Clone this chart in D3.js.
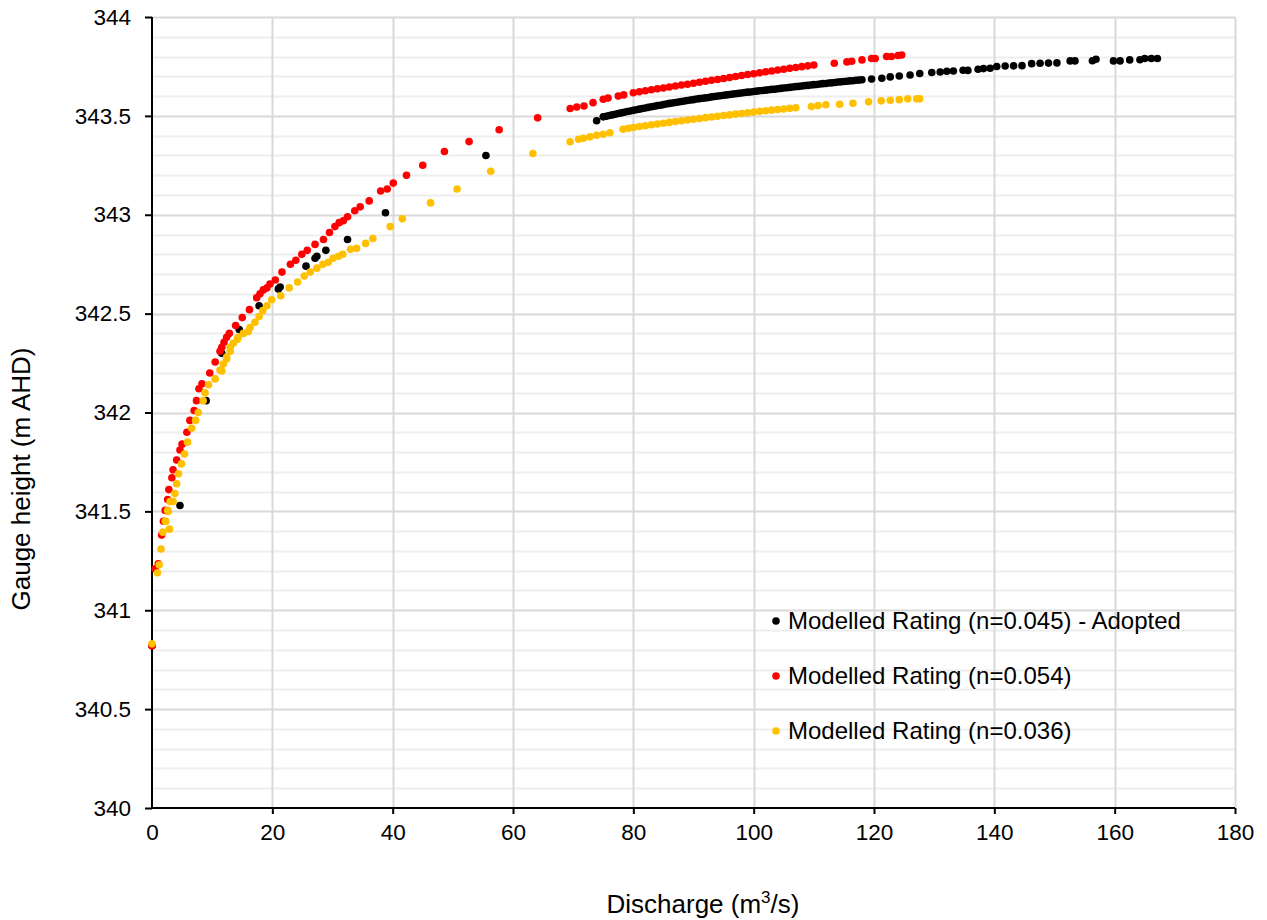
<!DOCTYPE html>
<html>
<head>
<meta charset="utf-8">
<script src="https://cdn.jsdelivr.net/npm/d3@7"></script>
<style>
  html, body { margin: 0; padding: 0; background: #fff; }
  svg { display: block; font-family: "Liberation Sans", Arial, sans-serif; }
</style>
</head>
<body>
<svg id="chart" width="1267" height="920"></svg>
<script>
// ---------- DATA ----------
const seriesNames = [
  "Modelled Rating (n=0.045) - Adopted",
  "Modelled Rating (n=0.054)",
  "Modelled Rating (n=0.036)"
];
const seriesColors = ["#000000", "#ff0000", "#ffc000"];

const xTicks = [0, 20, 40, 60, 80, 100, 120, 140, 160, 180];
const yTicks = [340, 340.5, 341, 341.5, 342, 342.5, 343, 343.5, 344];

// [discharge m3/s, gauge height m AHD]
const adoptedPts = [
  [0,340.82],[4.65,341.53],[9.0,342.06],[11.6,342.30],[14.5,342.42],[17.8,342.54],
  [21.0,342.625],[21.3,342.635],[25.6,342.74],[27.1,342.78],[27.4,342.79],[28.9,342.82],
  [32.5,342.875],[38.8,343.01],[55.5,343.30],[73.9,343.475],
  [75.0,343.495],[75.5,343.498],[76.0,343.502],[76.5,343.505],[77.0,343.508],[77.5,343.512],
  [78.0,343.515],[78.5,343.518],[79.0,343.522],[79.5,343.525],[80.0,343.528],[80.5,343.531],
  [81.0,343.534],[81.5,343.537],[82.0,343.540],[82.5,343.543],[83.0,343.546],[83.5,343.549],
  [84.0,343.552],[84.5,343.554],[85.0,343.557],[85.5,343.560],[86.0,343.563],[86.5,343.565],
  [87.0,343.568],[87.5,343.570],[88.0,343.573],[88.5,343.575],[89.0,343.578],[89.5,343.580],
  [90.0,343.582],[90.5,343.585],[91.0,343.587],[91.5,343.589],[92.0,343.591],[92.5,343.593],
  [93.0,343.596],[93.5,343.598],[94.0,343.600],[94.5,343.602],[95.0,343.604],[95.5,343.606],
  [96.0,343.608],[96.5,343.610],[97.0,343.612],[97.5,343.614],[98.0,343.616],[98.5,343.618],
  [99.0,343.620],[99.5,343.621],[100.0,343.623],[100.5,343.625],[101.0,343.627],[101.5,343.628],
  [102.0,343.630],[102.5,343.632],[103.0,343.634],[103.5,343.635],[104.0,343.637],[104.5,343.639],
  [105.0,343.641],[105.5,343.642],[106.0,343.644],[106.5,343.646],[107.0,343.648],[107.5,343.649],
  [108.0,343.651],[108.5,343.653],[109.0,343.654],[109.5,343.656],[110.0,343.658],[110.5,343.659],
  [111.0,343.661],[111.5,343.663],[112.0,343.664],[112.5,343.666],[113.0,343.667],[113.5,343.669],
  [114.0,343.671],[114.5,343.672],[115.0,343.674],[115.5,343.675],[116.0,343.677],[116.5,343.678],
  [117.0,343.680],[117.5,343.681],[118.0,343.683],
  [119.6,343.686],[121.3,343.690],[122.7,343.697],[124.2,343.702],[126.0,343.707],[127.6,343.714],
  [129.6,343.719],[131.0,343.722],[132.1,343.726],[133.2,343.727],[134.8,343.731],[135.6,343.730],
  [137.3,343.736],[138.2,343.739],[139.3,343.741],[140.4,343.750],[141.8,343.752],[143.2,343.753],
  [144.6,343.754],[146.2,343.764],[147.6,343.766],[149.0,343.767],[150.4,343.768],[152.6,343.778],
  [153.4,343.778],[156.3,343.779],[156.9,343.786],[159.8,343.778],[160.9,343.778],[162.5,343.783],
  [164.2,343.784],[165.0,343.790],[166.1,343.790],[167.1,343.790]
];

const highNPts = [
  [0,340.82],[0.5,341.21],[1.05,341.235],[1.6,341.38],[1.9,341.45],[2.2,341.505],[2.6,341.56],
  [2.8,341.61],[3.3,341.67],[3.5,341.71],[4.1,341.76],[4.65,341.81],[5.0,341.84],[5.8,341.90],
  [6.3,341.96],[7.0,342.01],[7.4,342.06],[7.8,342.12],[8.3,342.145],[9.6,342.20],[10.5,342.255],
  [11.3,342.31],[11.6,342.33],[11.97,342.355],[12.4,342.38],[12.85,342.40],[13.9,342.44],
  [15.0,342.48],[16.2,342.52],[17.4,342.58],[17.95,342.60],[18.5,342.62],[19.1,342.63],
  [19.6,342.65],[20.5,342.67],[21.6,342.71],[23.0,342.75],[23.9,342.77],[24.9,342.80],
  [25.8,342.82],[27.1,342.85],[28.5,342.875],[29.5,342.91],[30.4,342.94],[31.1,342.96],
  [31.8,342.97],[32.5,342.99],[33.7,343.02],[34.6,343.04],[36.1,343.07],[38.0,343.12],
  [39.1,343.13],[40.1,343.16],[42.3,343.20],[45.0,343.25],[48.6,343.32],[52.7,343.37],
  [57.7,343.43],[64.1,343.49],[69.5,343.537],[70.6,343.545],[71.8,343.55],[73.3,343.567],
  [75.0,343.584],[75.8,343.59],[77.5,343.60],[78.4,343.606],
  [80,343.617],[81,343.622],[82,343.627],[83,343.632],[84,343.637],[85,343.641],[86,343.646],
  [87,343.651],[88,343.656],[89,343.660],[90,343.665],[91,343.670],[92,343.675],[93,343.680],
  [94,343.684],[95,343.689],[96,343.694],[97,343.699],[98,343.704],[99,343.709],[100,343.713],
  [101,343.718],[102,343.723],[103,343.727],[104,343.732],[105,343.736],[106,343.741],
  [107,343.745],[108,343.749],[109,343.753],[110,343.757],
  [113.4,343.766],[115.5,343.773],[116.3,343.776],[118.0,343.783],[119.6,343.790],[120.2,343.790],
  [122.1,343.800],[122.9,343.800],[124.0,343.805],[124.6,343.808]
];

const lowNPts = [
  [0,340.83],[0.9,341.19],[1.2,341.23],[1.5,341.31],[1.8,341.395],[2.2,341.45],[2.3,341.45],
  [2.6,341.505],[2.7,341.50],[2.9,341.41],[3.0,341.55],[3.5,341.55],[3.8,341.59],[4.1,341.64],
  [4.4,341.69],[4.9,341.74],[5.4,341.79],[5.9,341.85],[6.6,341.92],[7.25,341.96],[7.7,342.00],
  [8.5,342.06],[8.8,342.10],[9.4,342.14],[10.5,342.17],[11.3,342.215],[11.6,342.21],
  [11.85,342.245],[12.4,342.27],[12.4,342.28],[13.0,342.31],[13.0,342.33],[13.5,342.35],
  [14.2,342.37],[14.3,342.38],[15.2,342.40],[16.0,342.41],[16.3,342.43],[17.1,342.456],
  [17.8,342.485],[18.4,342.515],[19.1,342.54],[19.9,342.57],[21.4,342.59],[22.8,342.63],
  [24.2,342.66],[25.3,342.69],[26.3,342.71],[27.4,342.73],[28.4,342.75],[29.3,342.76],
  [30.1,342.78],[31.0,342.79],[31.7,342.80],[33.0,342.825],[34.0,342.83],[35.5,342.855],
  [36.7,342.88],[39.6,342.94],[41.6,342.98],[46.3,343.06],[50.7,343.13],[56.3,343.22],
  [63.3,343.31],[69.5,343.369],[70.9,343.382],[71.7,343.387],[72.8,343.394],[73.9,343.402],
  [75.0,343.407],[76.1,343.415],[78.3,343.432],[79.2,343.437],
  [80,343.441],[81,343.446],[82,343.450],[83,343.455],[84,343.459],[85,343.463],[86,343.467],
  [87,343.471],[88,343.475],[89,343.479],[90,343.483],[91,343.487],[92,343.491],[93,343.494],
  [94,343.498],[95,343.502],[96,343.505],[97,343.509],[98,343.512],[99,343.516],[100,343.519],
  [101,343.523],[102,343.526],[103,343.529],[104,343.532],[105,343.535],[106,343.538],
  [107,343.541],
  [109.6,343.547],[110.7,343.552],[112.0,343.556],[114.3,343.559],[116.5,343.564],
  [119.1,343.571],[121.2,343.576],[122.7,343.579],[124.2,343.582],[125.6,343.586],
  [127.1,343.586],[127.6,343.586]
];

const seriesData = [adoptedPts, highNPts, lowNPts];

// ---------- LAYOUT ----------
const W = 1267, H = 920;
const plot = { left: 152, right: 1235, top: 17, bottom: 808 };

const svg = d3.select("#chart");
const x = d3.scaleLinear().domain([0, 180]).range([plot.left, plot.right]);
const y = d3.scaleLinear().domain([340, 344]).range([plot.bottom, plot.top]);

// minor horizontal gridlines every 0.1
const minorY = d3.range(3401, 3440).map(v => v / 10).filter(v => Math.abs(v * 2 - Math.round(v * 2)) > 1e-6);
svg.append("g").selectAll("line").data(minorY).join("line")
  .attr("x1", plot.left).attr("x2", plot.right)
  .attr("y1", d => Math.round(y(d)) + 0.5).attr("y2", d => Math.round(y(d)) + 0.5)
  .attr("stroke", "#eeeeee").attr("stroke-width", 2);

// major gridlines
svg.append("g").selectAll("line").data(yTicks.slice(1)).join("line")
  .attr("x1", plot.left).attr("x2", plot.right)
  .attr("y1", d => Math.round(y(d)) + 0.5).attr("y2", d => Math.round(y(d)) + 0.5)
  .attr("stroke", "#d9d9d9").attr("stroke-width", 2);
svg.append("g").selectAll("line").data(xTicks.slice(1)).join("line")
  .attr("y1", plot.top).attr("y2", plot.bottom)
  .attr("x1", d => Math.round(x(d)) + 0.5).attr("x2", d => Math.round(x(d)) + 0.5)
  .attr("stroke", "#d9d9d9").attr("stroke-width", 2);

// axes
const xAxis = d3.axisBottom(x).tickValues(xTicks).tickSize(6).tickPadding(10).tickFormat(d3.format("d"));
const yAxis = d3.axisLeft(y).tickValues(yTicks).tickSize(7).tickPadding(14).tickFormat(d => String(d));

const gx = svg.append("g").attr("transform", `translate(0,${plot.bottom})`).call(xAxis);
const gy = svg.append("g").attr("transform", `translate(${plot.left},0)`).call(yAxis);
[gx, gy].forEach(g => {
  g.select(".domain").attr("stroke", "#000").attr("stroke-width", 2);
  g.selectAll(".tick line").attr("stroke", "#000").attr("stroke-width", 2);
  g.selectAll(".tick text").attr("fill", "#000").style("font-size", "22.5px")
    .style("font-family", '"Liberation Sans", Arial, sans-serif');
});
gx.select(".domain").attr("d", `M${plot.left},0H${plot.right}`);
gy.select(".domain").attr("d", `M0,${plot.bottom}V${plot.top}`);
gx.selectAll(".tick text").attr("dy", "0.71em");
gx.selectAll(".tick").filter(d => d === 0).select("line").remove();

// data points (adopted first, others drawn on top)
seriesData.forEach((pts, i) => {
  svg.append("g").selectAll("circle").data(pts).join("circle")
    .attr("cx", d => x(d[0])).attr("cy", d => y(d[1]))
    .attr("r", 3.8).attr("fill", seriesColors[i]);
});

// legend
const legend = svg.append("g");
const legendY = [621, 676, 731];
seriesNames.forEach((name, i) => {
  legend.append("circle").attr("cx", 776).attr("cy", legendY[i]).attr("r", 3.8).attr("fill", seriesColors[i]);
  legend.append("text").attr("x", 788).attr("y", legendY[i]).attr("dy", "0.35em")
    .style("font-size", "24px").attr("fill", "#000").text(name);
});

// axis titles
const xt = svg.append("text").attr("x", 703).attr("y", 913)
  .attr("text-anchor", "middle").style("font-size", "26px").attr("fill", "#000");
xt.append("tspan").text("Discharge (m");
xt.append("tspan").attr("dy", -10).style("font-size", "17px").text("3");
xt.append("tspan").attr("dy", 10).text("/s)");

svg.append("text")
  .attr("transform", `translate(30,479) rotate(-90)`)
  .attr("text-anchor", "middle").style("font-size", "26px").attr("fill", "#000")
  .text("Gauge height (m AHD)");
</script>
</body>
</html>
